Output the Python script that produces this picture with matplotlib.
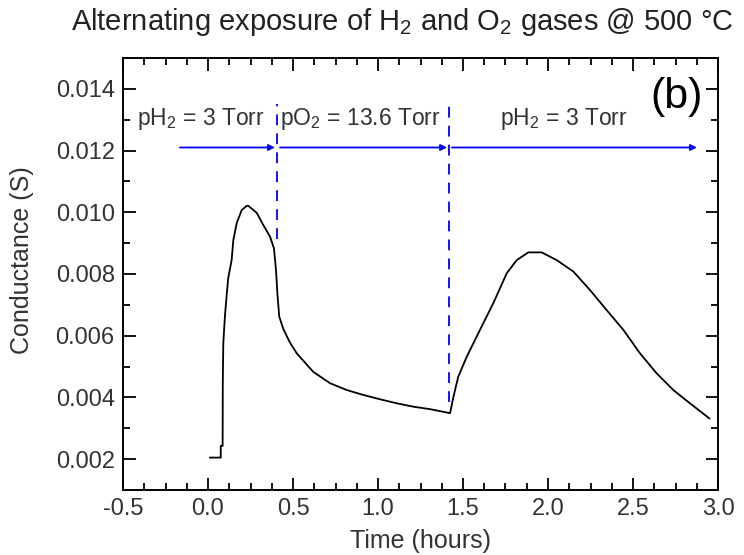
import numpy as np
import matplotlib
matplotlib.use('Agg')
import matplotlib.pyplot as plt
from matplotlib.ticker import MultipleLocator

plt.rcParams['font.family'] = ['Liberation Sans', 'DejaVu Sans']
plt.rcParams['mathtext.fontset'] = 'custom'
plt.rcParams['mathtext.rm'] = 'Liberation Sans'
plt.rcParams['mathtext.it'] = 'Liberation Sans'

# conductance trace (time in hours, conductance in S)
time_h = [0.012, 0.075, 0.075, 0.086, 0.087, 0.090, 0.100, 0.110, 0.119, 0.139,
          0.149, 0.169, 0.198, 0.228, 0.237, 0.287, 0.325, 0.365, 0.388, 0.400,
          0.408, 0.419, 0.443, 0.482, 0.522, 0.619, 0.718, 0.816, 0.914, 1.012,
          1.110, 1.208, 1.306, 1.424, 1.443, 1.472, 1.522, 1.600, 1.678, 1.757,
          1.816, 1.884, 1.963, 2.051, 2.149, 2.247, 2.345, 2.443, 2.541, 2.639,
          2.737, 2.835, 2.949]
cond = [0.00205, 0.00205, 0.00243, 0.00243, 0.00447, 0.00576, 0.00667, 0.00732, 0.00787, 0.00845,
        0.00910, 0.00965, 0.01007, 0.01021, 0.01021, 0.00998, 0.00959, 0.00921, 0.00883, 0.00813,
        0.00738, 0.00662, 0.00622, 0.00578, 0.00543, 0.00483, 0.00446, 0.00424, 0.00408, 0.00394,
        0.00381, 0.00370, 0.00362, 0.00349, 0.00400, 0.00467, 0.00532, 0.00619, 0.00705, 0.00802,
        0.00845, 0.00870, 0.00870, 0.00845, 0.00808, 0.00748, 0.00683, 0.00619, 0.00543, 0.00478,
        0.00424, 0.00381, 0.00332]

# gas switching times and the dashed markers
switch_t = [0.406, 1.418]
switch_bottom = [0.00912, 0.00385]
switch_top = 0.0135

# exposure arrows (start, end) and their labels
arrow_y = 0.0121
arrows = [(-0.165, 0.394), (0.424, 1.406), (1.435, 2.876)]
labels = ['pH$_2$ = 3 Torr', 'pO$_2$ = 13.6 Torr', 'pH$_2$ = 3 Torr']
label_x = [-0.418, 0.424, 1.718]
label_y = 0.01283

fig = plt.figure(figsize=(7.44, 5.55), dpi=100)
ax = fig.add_axes([123/744, 1-490/555, (718-123)/744, (490-58)/555])

ax.plot(time_h, cond, color='black', lw=1.3)

for t, b in zip(switch_t, switch_bottom):
    ax.plot([t, t], [b, switch_top], color='blue', lw=1.3, ls=(0, (6, 4.5)))

for (x0, x1) in arrows:
    ax.annotate('', xy=(x1, arrow_y), xytext=(x0, arrow_y),
                arrowprops=dict(arrowstyle='-|>', color='blue', lw=1.3,
                                mutation_scale=9, shrinkA=0, shrinkB=0))

for lab, x in zip(labels, label_x):
    ax.text(x, label_y, lab, fontsize=16.5, color='#333333', va='baseline', ha='left')

ax.text(2.6, 0.01338, '(b)', fontsize=31, color='black', va='baseline', ha='left')

ax.set_xlim(-0.5, 3.0)
ax.set_ylim(0.001, 0.015)
ax.xaxis.set_major_locator(MultipleLocator(0.5))
ax.xaxis.set_minor_locator(MultipleLocator(0.125))
ax.yaxis.set_major_locator(MultipleLocator(0.002))
ax.yaxis.set_minor_locator(MultipleLocator(0.001))
ax.xaxis.set_major_formatter(plt.FuncFormatter(lambda v, p: f'{v:.1f}'))
ax.yaxis.set_major_formatter(plt.FuncFormatter(lambda v, p: f'{v:.3f}'))
ax.tick_params(which='both', direction='in', top=True, right=True, width=1.3,
               labelsize=17, colors='black', labelcolor='#333333')
ax.tick_params(which='major', length=9, pad=6)
ax.tick_params(which='minor', length=5)
for s in ax.spines.values():
    s.set_linewidth(1.4)

fig.text(420/744, 1-548/555, 'Time (hours)', fontsize=18, color='#333333',
         ha='center', va='baseline')
fig.text(22/744, 1-260/555, 'Conductance (S)', fontsize=18, color='#333333',
         ha='center', va='center', rotation=90)
fig.text(402/744, 1-30/555, 'Alternating exposure of H$_2$ and O$_2$ gases @ 500 \u00b0C',
         fontsize=21, color='#222222', ha='center', va='baseline')

fig.savefig('out.png', dpi=100)
